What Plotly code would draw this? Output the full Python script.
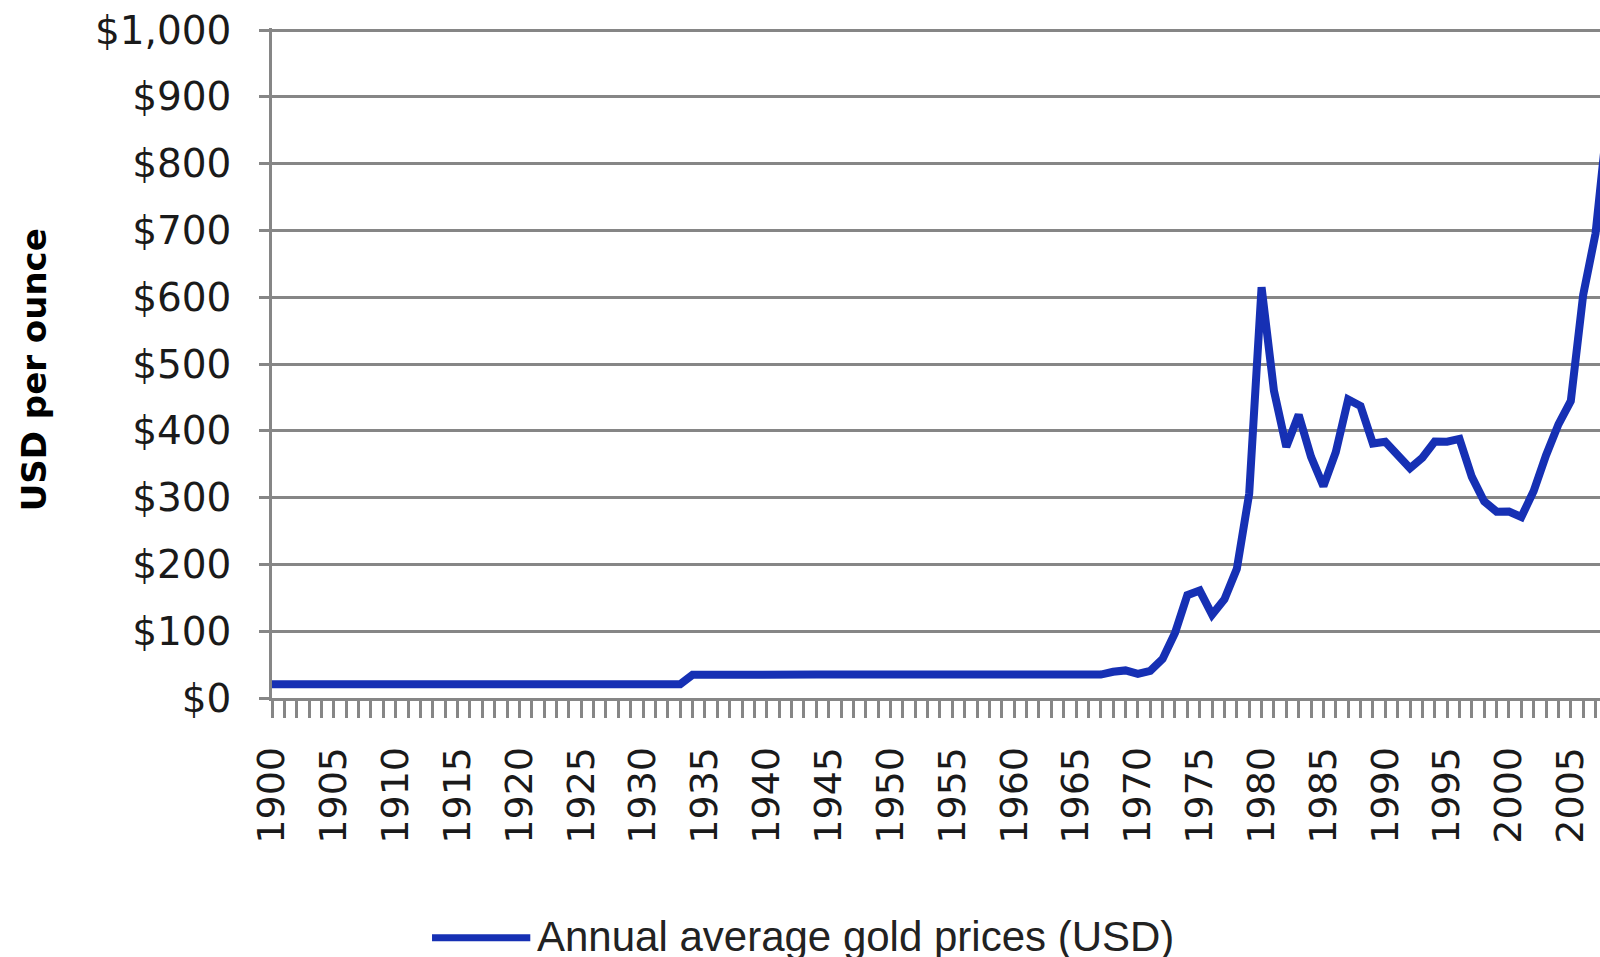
import plotly.graph_objects as go

years = list(range(1900, 2009))
prices = (
    [20.67] * 34 +                       # 1900-1933
    [34.69] + [35.00] * 33 +             # 1934-1967
    [39.31, 41.28, 36.02, 40.62, 58.42, 97.39, 154.00, 160.86, 124.74, 147.84,   # 1968-1977
     193.40, 306.00, 615.00, 460.00, 376.00, 424.00, 361.00, 317.00, 368.00, 447.00,  # 1978-1987
     437.00, 381.00, 383.51, 362.11, 343.82, 359.77, 384.00, 383.79, 387.81, 331.02,  # 1988-1997
     294.24, 278.98, 279.11, 271.04, 309.73, 363.38, 409.72, 444.74, 603.46, 695.39,  # 1998-2007
     871.96]                                                                          # 2008
)
series_name = "Annual average gold prices (USD)"
y_title = "USD per ounce"

LINE = "#1630b4"
GRID = "#868686"
TXT = "#1a1a1a"

fig = go.Figure(go.Scatter(x=years, y=prices, mode="lines",
                           line=dict(color=LINE, width=8),
                           name=series_name, showlegend=False))

fig.update_layout(
    width=1600, height=957,
    margin=dict(l=272, r=0, t=28, b=259, autoexpand=False),
    paper_bgcolor="white", plot_bgcolor="white",
    xaxis=dict(range=[1900, 2007.36], tickmode="linear", tick0=1900, dtick=5,
               ticks="outside", ticklen=17, tickwidth=2.5, tickcolor=GRID,
               tickangle=-90, tickfont=dict(family="DejaVu Sans", size=38, color=TXT),
               showgrid=False, showline=True, linecolor=GRID, linewidth=2.5,
               zeroline=False, ticklabelstandoff=14, automargin=False,
               minor=dict(tick0=1900, dtick=1, ticks="outside", ticklen=17,
                          tickwidth=2.5, tickcolor=GRID, showgrid=False)),
    yaxis=dict(range=[0, 1003], tickmode="linear", tick0=0, dtick=100,
               tickprefix="$", tickformat=",d",
               showgrid=True, gridcolor=GRID, gridwidth=2.5,
               ticks="outside", ticklen=10, tickwidth=2.5, tickcolor=GRID,
               showline=True, linecolor=GRID, linewidth=2.5, zeroline=False,
               tickfont=dict(family="DejaVu Sans", size=39, color=TXT),
               ticklabelstandoff=20, automargin=False),
    shapes=[dict(type="line", xref="paper", yref="paper",
                 x0=0.1205, x1=0.1945, y0=-0.3578, y1=-0.3578,
                 line=dict(color=LINE, width=7))],
    annotations=[
        dict(text=y_title, xref="paper", yref="paper", x=-0.1795, y=0.49,
             xanchor="center", yanchor="middle", textangle=-90, showarrow=False,
             font=dict(family="DejaVu Sans", size=34, color="black", weight="bold")),
        dict(text=series_name, xref="paper", yref="paper", x=0.198, y=-0.3563,
             xanchor="left", yanchor="middle", showarrow=False,
             font=dict(family="Liberation Sans", size=42, color="#222222")),
    ],
)

fig.write_html("out.html",
               config={"displayModeBar": False},
               post_script="document.body.style.margin='0';document.body.style.overflow='hidden';")
